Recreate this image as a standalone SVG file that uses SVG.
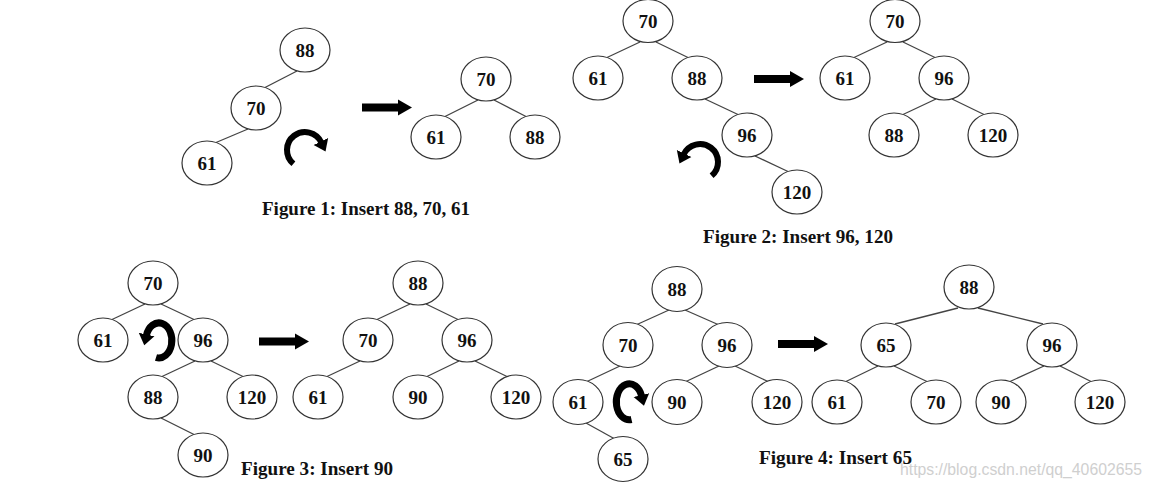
<svg xmlns="http://www.w3.org/2000/svg" xmlns:xlink="http://www.w3.org/1999/xlink" width="1151" height="489" viewBox="0 0 1151 489">
<style>
.node ellipse{fill:#fff;stroke:#333;stroke-width:1.2}
.node text{font-family:"Liberation Serif",serif;font-weight:bold;font-size:19px;text-anchor:middle;fill:#111}
.edges line{stroke:#444;stroke-width:1.3}
.cap{font-family:"Liberation Serif",serif;font-weight:bold;font-size:19.5px;fill:#111}
.rot{fill:none;stroke:#000;stroke-width:6}
.rot2{fill:none;stroke:#000;stroke-width:7}
.big{fill:#000}
.wm{font-family:"Liberation Sans",sans-serif;font-size:16px;fill:#cfcfcf}
</style>
<defs>
<marker id="head" markerUnits="userSpaceOnUse" markerWidth="14" markerHeight="20" refX="1" refY="9" orient="auto">
<path d="M0,1 L11,9 L0,17 Z" fill="#000"/>
</marker>
<path id="bigArrow" d="M0,-4 H36 V-8 L50,0 L36,8 V4 H0 Z"/>
</defs>
<rect width="1151" height="489" fill="#fff"/>

<g id="connectors" class="edges">
<line x1="297" y1="71" x2="265" y2="87.5"/>
<line x1="248" y1="129" x2="216" y2="142.5"/>
<line x1="478" y1="100" x2="445" y2="116.5"/>
<line x1="494" y1="100" x2="526" y2="116.5"/>
<line x1="640" y1="42" x2="607" y2="57.5"/>
<line x1="656" y1="42" x2="688" y2="57.5"/>
<line x1="705" y1="99" x2="738" y2="114.5"/>
<line x1="755" y1="156" x2="788" y2="171.5"/>
<line x1="887" y1="42" x2="854" y2="57.5"/>
<line x1="903" y1="42" x2="935" y2="57.5"/>
<line x1="936" y1="99" x2="903" y2="114.5"/>
<line x1="952" y1="99" x2="984" y2="114.5"/>
<line x1="145" y1="304" x2="112" y2="319.5"/>
<line x1="161" y1="304" x2="194" y2="319.5"/>
<line x1="195" y1="361" x2="162" y2="376.5"/>
<line x1="211" y1="361" x2="243" y2="376.5"/>
<line x1="161" y1="418" x2="194" y2="434.5"/>
<line x1="410" y1="304" x2="377" y2="319.5"/>
<line x1="426" y1="304" x2="458" y2="319.5"/>
<line x1="360" y1="361" x2="327" y2="376.5"/>
<line x1="459" y1="361" x2="427" y2="376.5"/>
<line x1="475" y1="361" x2="507" y2="376.5"/>
<line x1="669" y1="310" x2="637" y2="324.5"/>
<line x1="685" y1="310" x2="718" y2="324.5"/>
<line x1="620" y1="366" x2="587" y2="381.5"/>
<line x1="719" y1="366" x2="686" y2="381.5"/>
<line x1="735" y1="366" x2="768" y2="381.5"/>
<line x1="586" y1="423" x2="614" y2="438.5"/>
<line x1="958" y1="308" x2="895" y2="324"/>
<line x1="978" y1="308" x2="1043" y2="324"/>
<line x1="878" y1="366" x2="846" y2="381.5"/>
<line x1="894" y1="366" x2="927" y2="381.5"/>
<line x1="1044" y1="366" x2="1010" y2="381.5"/>
<line x1="1060" y1="366" x2="1091" y2="381.5"/>
</g>

<g id="f1-88"><g class="node"><ellipse cx="305" cy="50" rx="25" ry="22"/><text x="305" y="56.5">88</text></g></g>
<g id="f1-70"><g class="node"><ellipse cx="256" cy="108" rx="25" ry="22"/><text x="256" y="114.5">70</text></g></g>
<g id="f1-61"><g class="node"><ellipse cx="207" cy="163" rx="25" ry="22"/><text x="207" y="169.5">61</text></g></g>
<g id="f1r-70"><g class="node"><ellipse cx="486" cy="79" rx="25" ry="22"/><text x="486" y="85.5">70</text></g></g>
<g id="f1r-61"><g class="node"><ellipse cx="436" cy="137" rx="25" ry="22"/><text x="436" y="143.5">61</text></g></g>
<g id="f1r-88"><g class="node"><ellipse cx="535" cy="137" rx="25" ry="22"/><text x="535" y="143.5">88</text></g></g>

<g id="f2-70"><g class="node"><ellipse cx="648" cy="21" rx="25" ry="21.5"/><text x="648" y="27.5">70</text></g></g>
<g id="f2-61"><g class="node"><ellipse cx="598" cy="78" rx="25" ry="22"/><text x="598" y="84.5">61</text></g></g>
<g id="f2-88"><g class="node"><ellipse cx="697" cy="78" rx="25" ry="22"/><text x="697" y="84.5">88</text></g></g>
<g id="f2-96"><g class="node"><ellipse cx="747" cy="135" rx="25" ry="22"/><text x="747" y="141.5">96</text></g></g>
<g id="f2-120"><g class="node"><ellipse cx="797" cy="192" rx="25" ry="22"/><text x="797" y="198.5">120</text></g></g>
<g id="f2r-70"><g class="node"><ellipse cx="895" cy="21" rx="25" ry="21.5"/><text x="895" y="27.5">70</text></g></g>
<g id="f2r-61"><g class="node"><ellipse cx="845" cy="78" rx="25" ry="22"/><text x="845" y="84.5">61</text></g></g>
<g id="f2r-96"><g class="node"><ellipse cx="944" cy="78" rx="25" ry="22"/><text x="944" y="84.5">96</text></g></g>
<g id="f2r-88"><g class="node"><ellipse cx="894" cy="135" rx="25" ry="22"/><text x="894" y="141.5">88</text></g></g>
<g id="f2r-120"><g class="node"><ellipse cx="993" cy="135" rx="25" ry="22"/><text x="993" y="141.5">120</text></g></g>

<g id="f3-70"><g class="node"><ellipse cx="153" cy="283" rx="25" ry="22"/><text x="153" y="289.5">70</text></g></g>
<g id="f3-61"><g class="node"><ellipse cx="103" cy="340" rx="25" ry="22"/><text x="103" y="346.5">61</text></g></g>
<g id="f3-96"><g class="node"><ellipse cx="203" cy="340" rx="25" ry="22"/><text x="203" y="346.5">96</text></g></g>
<g id="f3-88"><g class="node"><ellipse cx="153" cy="397" rx="25" ry="22"/><text x="153" y="403.5">88</text></g></g>
<g id="f3-120"><g class="node"><ellipse cx="252" cy="397" rx="25" ry="22"/><text x="252" y="403.5">120</text></g></g>
<g id="f3-90"><g class="node"><ellipse cx="203" cy="455" rx="25" ry="22"/><text x="203" y="461.5">90</text></g></g>
<g id="f3r-88"><g class="node"><ellipse cx="418" cy="283" rx="25" ry="22"/><text x="418" y="289.5">88</text></g></g>
<g id="f3r-70"><g class="node"><ellipse cx="368" cy="340" rx="25" ry="22"/><text x="368" y="346.5">70</text></g></g>
<g id="f3r-96"><g class="node"><ellipse cx="467" cy="340" rx="25" ry="22"/><text x="467" y="346.5">96</text></g></g>
<g id="f3r-61"><g class="node"><ellipse cx="318" cy="397" rx="25" ry="22"/><text x="318" y="403.5">61</text></g></g>
<g id="f3r-90"><g class="node"><ellipse cx="418" cy="397" rx="25" ry="22"/><text x="418" y="403.5">90</text></g></g>
<g id="f3r-120"><g class="node"><ellipse cx="516" cy="397" rx="25" ry="22"/><text x="516" y="403.5">120</text></g></g>

<g id="f4-88"><g class="node"><ellipse cx="677" cy="289" rx="25" ry="22.5"/><text x="677" y="295.5">88</text></g></g>
<g id="f4-70"><g class="node"><ellipse cx="628" cy="345" rx="25" ry="22.5"/><text x="628" y="351.5">70</text></g></g>
<g id="f4-96"><g class="node"><ellipse cx="727" cy="345" rx="25" ry="22.5"/><text x="727" y="351.5">96</text></g></g>
<g id="f4-61"><g class="node"><ellipse cx="578" cy="402" rx="25" ry="22.5"/><text x="578" y="408.5">61</text></g></g>
<g id="f4-90"><g class="node"><ellipse cx="677" cy="402" rx="25" ry="22.5"/><text x="677" y="408.5">90</text></g></g>
<g id="f4-120"><g class="node"><ellipse cx="777" cy="402" rx="25" ry="22.5"/><text x="777" y="408.5">120</text></g></g>
<g id="f4-65"><g class="node"><ellipse cx="623" cy="459" rx="25" ry="22.5"/><text x="623" y="465.5">65</text></g></g>
<g id="f4r-88"><g class="node"><ellipse cx="969" cy="287" rx="25" ry="22"/><text x="969" y="293.5">88</text></g></g>
<g id="f4r-65"><g class="node"><ellipse cx="886" cy="345" rx="25" ry="22"/><text x="886" y="351.5">65</text></g></g>
<g id="f4r-96"><g class="node"><ellipse cx="1052" cy="345" rx="25" ry="22"/><text x="1052" y="351.5">96</text></g></g>
<g id="f4r-61"><g class="node"><ellipse cx="837" cy="402" rx="25" ry="22"/><text x="837" y="408.5">61</text></g></g>
<g id="f4r-70"><g class="node"><ellipse cx="936" cy="402" rx="25" ry="22"/><text x="936" y="408.5">70</text></g></g>
<g id="f4r-90"><g class="node"><ellipse cx="1001" cy="402" rx="25" ry="22"/><text x="1001" y="408.5">90</text></g></g>
<g id="f4r-120"><g class="node"><ellipse cx="1100" cy="402" rx="25" ry="22"/><text x="1100" y="408.5">120</text></g></g>

<g id="rotations">
<path class="rot" d="M293.4,163.8 A18,18 0 1 1 321.3,142.4" marker-end="url(#head)"/>
<path class="rot" d="M711.6,175.8 A18,18 0 1 0 683.7,154.4" marker-end="url(#head)"/>
<path class="rot2" d="M156,357.5 A13,17.5 0 1 0 146.4,335.5" marker-end="url(#head)"/>
<path class="rot2" d="M631.5,419.5 A13,18 0 1 1 641.6,396" marker-end="url(#head)"/>
</g>

<g id="arrows" class="big">
<use xlink:href="#bigArrow" x="362" y="107.5"/>
<use xlink:href="#bigArrow" x="754" y="79"/>
<use xlink:href="#bigArrow" x="259" y="341.5"/>
<use xlink:href="#bigArrow" x="778" y="344"/>
</g>

<g id="captions">
<text class="cap" x="262" y="215" textLength="208" lengthAdjust="spacingAndGlyphs">Figure 1: Insert 88, 70, 61</text>
<text class="cap" x="703" y="243" textLength="190" lengthAdjust="spacingAndGlyphs">Figure 2: Insert 96, 120</text>
<text class="cap" x="241" y="475" textLength="152" lengthAdjust="spacingAndGlyphs">Figure 3: Insert 90</text>
<text class="cap" x="759" y="464" textLength="153" lengthAdjust="spacingAndGlyphs">Figure 4: Insert 65</text>
</g>
<text class="wm" x="900" y="475" textLength="242" lengthAdjust="spacingAndGlyphs">https://blog.csdn.net/qq_40602655</text>
</svg>
